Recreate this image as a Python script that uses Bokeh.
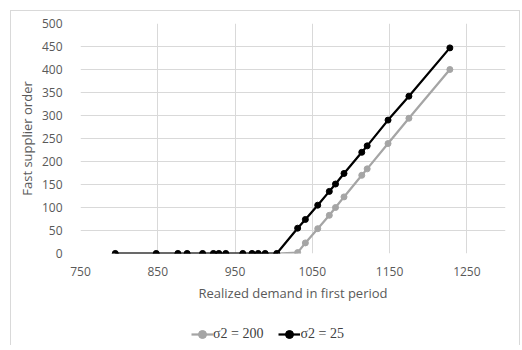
from bokeh.plotting import figure
from bokeh.layouts import column
from bokeh.models import Range1d, FixedTicker, Legend, LegendItem, InlineStyleSheet
from bokeh.embed import file_html
from bokeh.resources import INLINE

# Data
demand = [795, 848, 876, 888, 908, 922, 929, 938, 960, 972, 980, 989, 1004,
          1031, 1041, 1057, 1072, 1080, 1091, 1114, 1121, 1148, 1175, 1228]
order_s200 = [0, 0, 0, 0, 0, 0, 0, 0, 0, 0, 0, 0, 0,
              2, 23, 54, 83, 100, 123, 170, 184, 239, 294, 400]
order_s25 = [0, 0, 0, 0, 0, 0, 0, 0, 0, 0, 0, 0, 0,
             55, 74, 105, 135, 151, 174, 220, 234, 290, 342, 447]
x_ticks = [750, 850, 950, 1050, 1150, 1250]
y_ticks = [0, 50, 100, 150, 200, 250, 300, 350, 400, 450, 500]
series_labels = ["σ2 = 200", "σ2 = 25"]

GRID = "#d9d9d9"
TXT = "#595959"
FONT = "Open Sans"
GRAY = "#a5a5a5"

p = figure(width=510, height=299, output_backend="svg", toolbar_location=None,
           x_range=Range1d(750, 1300), y_range=Range1d(0, 500),
           min_border_left=70, min_border_right=15, min_border_top=13,
           min_border_bottom=56)
p.outline_line_color = None
p.background_fill_color = "white"
p.border_fill_alpha = 0
p.stylesheets = [InlineStyleSheet(css=":host { background: white; box-shadow: inset 1px 1px 0 #d9d9d9, inset -1px 0 0 #d9d9d9; }")]

p.xaxis.ticker = FixedTicker(ticks=x_ticks)
p.yaxis.ticker = FixedTicker(ticks=y_ticks)
p.xgrid.ticker = FixedTicker(ticks=x_ticks)
p.ygrid.ticker = FixedTicker(ticks=y_ticks)
p.grid.grid_line_color = GRID
p.grid.grid_line_width = 1

for ax in (p.xaxis, p.yaxis):
    ax.axis_line_color = None
    ax.major_tick_line_color = None
    ax.minor_tick_line_color = None
    ax.major_label_text_color = TXT
    ax.major_label_text_font = FONT
    ax.major_label_text_font_size = "12px"
    ax.axis_label_text_color = TXT
    ax.axis_label_text_font = FONT
    ax.axis_label_text_font_size = "13px"
    ax.axis_label_text_font_style = "normal"

p.xaxis.axis_label = "Realized demand in first period"
p.yaxis.axis_label = "Fast supplier order"
p.xaxis.major_label_standoff = 7
p.xaxis.axis_label_standoff = 5
p.yaxis.major_label_standoff = 12
p.yaxis.axis_label_standoff = 3

p.line(demand, order_s200, line_color=GRAY, line_width=2.25)
p.scatter(demand, order_s200, size=6, fill_color=GRAY, line_color=GRAY)
p.line(demand, order_s25, line_color="black", line_width=2.25)
p.scatter(demand, order_s25, size=6, fill_color="black", line_color="black")

# Legend strip below the chart (renderers lie outside its visible range)
lg = figure(width=510, height=36, output_backend="svg", toolbar_location=None,
            x_range=Range1d(0, 1), y_range=Range1d(0, 1),
            x_axis_type=None, y_axis_type=None,
            min_border_left=0, min_border_right=0, min_border_top=0, min_border_bottom=0)
lg.outline_line_color = None
lg.grid.visible = False
lg.border_fill_alpha = 0
lg.background_fill_alpha = 0
lg.stylesheets = [InlineStyleSheet(css=":host { background: white; box-shadow: inset 1px 0 0 #d9d9d9, inset -1px 0 0 #d9d9d9; }")]
off = [-5, -4]
gl = lg.line(off, off, line_color=GRAY, line_width=2.25)
gs = lg.scatter(off, off, size=6, fill_color=GRAY, line_color=GRAY)
bl = lg.line(off, off, line_color="black", line_width=2.25)
bs = lg.scatter(off, off, size=6, fill_color="black", line_color="black")
legend = Legend(items=[LegendItem(label=series_labels[0], renderers=[gl, gs]),
                       LegendItem(label=series_labels[1], renderers=[bl, bs])],
                location=(111, 1), orientation="horizontal",
                glyph_width=22, glyph_height=20, label_standoff=0, spacing=15,
                padding=0, margin=0, border_line_color=None, background_fill_alpha=0,
                label_text_font="Liberation Serif", label_text_font_size="14px",
                label_text_color="#404040")
lg.add_layout(legend, "center")

layout = column(p, lg, spacing=0)
layout.margin = (10, 0, 0, 10)
open("out.html", "w").write(file_html(layout, INLINE))
